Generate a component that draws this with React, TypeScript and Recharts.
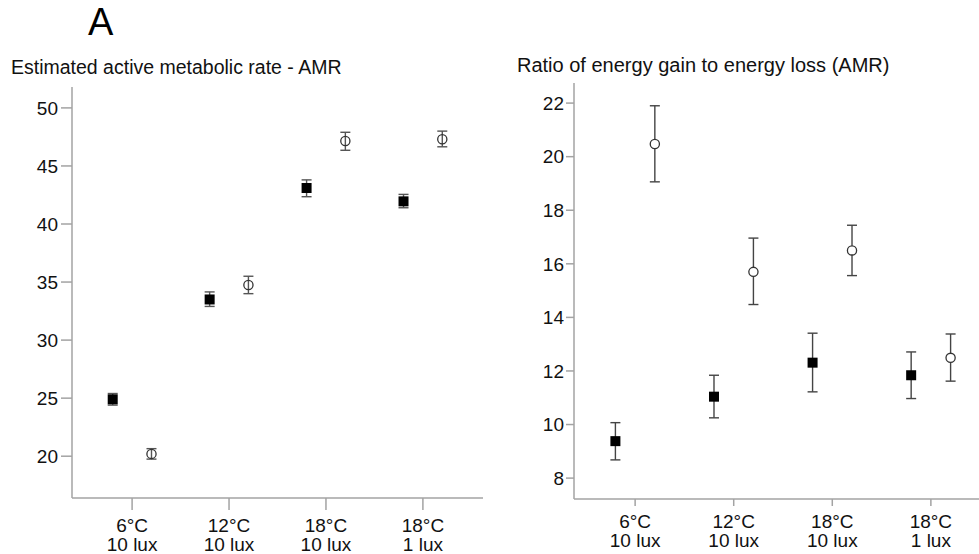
import { ScatterChart, Scatter, XAxis, YAxis, ErrorBar } from 'recharts'

const FONT = '"Liberation Sans", Arial, sans-serif'

// x categories (two-line tick labels)
const TEMPS = ['6°C', '12°C', '18°C', '18°C']
const LUX = ['10 lux', '10 lux', '10 lux', '1 lux']
const CAT_TICKS = [1, 2, 3, 4]

// left panel - estimated AMR, mean and interval bounds
const AMR_FILLED = [24.9, 33.5, 43.1, 41.95]
const AMR_FILLED_LO = [24.4, 32.9, 42.35, 41.4]
const AMR_FILLED_HI = [25.4, 34.15, 43.8, 42.55]
const AMR_OPEN = [20.2, 34.75, 47.15, 47.3]
const AMR_OPEN_LO = [19.75, 34.0, 46.35, 46.65]
const AMR_OPEN_HI = [20.65, 35.5, 47.9, 48.0]
const AMR_TICKS = [20, 25, 30, 35, 40, 45, 50]

// right panel - ratio of energy gain to energy loss
const RATIO_FILLED = [9.38, 11.04, 12.31, 11.84]
const RATIO_FILLED_LO = [8.68, 10.25, 11.22, 10.97]
const RATIO_FILLED_HI = [10.07, 11.84, 13.41, 12.71]
const RATIO_OPEN = [20.47, 15.7, 16.5, 12.49]
const RATIO_OPEN_LO = [19.06, 14.48, 15.56, 11.62]
const RATIO_OPEN_HI = [21.9, 16.96, 17.44, 13.38]
const RATIO_TICKS = [8, 10, 12, 14, 16, 18, 20, 22]

const rows = (vals: number[], lo: number[], hi: number[], offset: number) =>
  vals.map((y, i) => ({ x: i + 1 + offset, y, err: [y - lo[i], hi[i] - y] }))

const CatTick = ({ x, y, payload }: any) => {
  const i = payload.value - 1
  return (
    <text x={x} y={y} textAnchor="middle" fontSize={19} fill="#111" fontFamily={FONT}>
      <tspan x={x} dy={21.7}>{TEMPS[i]}</tspan>
      <tspan x={x} dy={19}>{LUX[i]}</tspan>
    </text>
  )
}

const Square = ({ cx, cy }: any) => (
  <rect x={cx - 5} y={cy - 5} width={10} height={10} fill="#000" />
)

const OpenCircle = (fill: string) => ({ cx, cy }: any) => (
  <circle cx={cx} cy={cy} r={4.6} fill={fill} stroke="#333" strokeWidth={1.3} />
)

const axisStyle = { stroke: '#a3a3a3', strokeWidth: 1.5 }
const tickStyle = { fontSize: 19, fill: '#111', fontFamily: FONT }

export default function App() {
  return (
    <div style={{ position: 'absolute', left: 0, top: 0, width: 979, height: 554, overflow: 'hidden', background: '#fff' }}>
      <div style={{ position: 'absolute', left: 0, top: 0 }}>
        <ScatterChart width={490} height={554} margin={{ top: 87, right: 7, bottom: 0, left: 0 }}>
          <XAxis
            type="number" dataKey="x" domain={[0.38, 4.62]} ticks={CAT_TICKS} allowDataOverflow
            height={56} tickSize={12} tickMargin={0} tick={<CatTick />}
            axisLine={axisStyle} tickLine={axisStyle}
          />
          <YAxis
            type="number" dataKey="y" domain={[16.4, 51.8]} ticks={AMR_TICKS} allowDataOverflow
            width={72} tickSize={11} tickMargin={3} tick={tickStyle}
            axisLine={axisStyle} tickLine={axisStyle}
          />
          <Scatter data={rows(AMR_FILLED, AMR_FILLED_LO, AMR_FILLED_HI, -0.2)} shape={<Square />} isAnimationActive={false}>
            <ErrorBar dataKey="err" direction="y" width={5} stroke="#555" strokeWidth={1.4} />
          </Scatter>
          <Scatter data={rows(AMR_OPEN, AMR_OPEN_LO, AMR_OPEN_HI, 0.2)} shape={OpenCircle('none')} isAnimationActive={false}>
            <ErrorBar dataKey="err" direction="y" width={5} stroke="#555" strokeWidth={1.4} />
          </Scatter>
        </ScatterChart>
      </div>

      <div style={{ position: 'absolute', left: 490, top: 0 }}>
        <ScatterChart width={510} height={554} margin={{ top: 83, right: 8, bottom: 0, left: 0 }}>
          <XAxis
            type="number" dataKey="x" domain={[0.38, 4.62]} ticks={CAT_TICKS} allowDataOverflow
            height={55} tickSize={7} tickMargin={0} tick={<CatTick />}
            axisLine={axisStyle} tickLine={axisStyle}
          />
          <YAxis
            type="number" dataKey="y" domain={[7.22, 22.75]} ticks={RATIO_TICKS} allowDataOverflow
            width={84} tickSize={8} tickMargin={2} tick={tickStyle}
            axisLine={axisStyle} tickLine={axisStyle}
          />
          <Scatter data={rows(RATIO_FILLED, RATIO_FILLED_LO, RATIO_FILLED_HI, -0.2)} shape={<Square />} isAnimationActive={false}>
            <ErrorBar dataKey="err" direction="y" width={5} stroke="#444" strokeWidth={1.4} />
          </Scatter>
          <Scatter data={rows(RATIO_OPEN, RATIO_OPEN_LO, RATIO_OPEN_HI, 0.2)} shape={OpenCircle('#fff')} isAnimationActive={false}>
            <ErrorBar dataKey="err" direction="y" width={5} stroke="#444" strokeWidth={1.4} />
          </Scatter>
        </ScatterChart>
      </div>

      <svg width={979} height={554} style={{ position: 'absolute', left: 0, top: 0, pointerEvents: 'none' }}>
        <text x={88} y={35} fontSize={38} fill="#000" fontFamily={FONT}>A</text>
        <text x={11} y={74} fontSize={19.5} fill="#111" fontFamily={FONT}>Estimated active metabolic rate - AMR</text>
        <text x={517} y={72} fontSize={20} fill="#111" fontFamily={FONT}>Ratio of energy gain to energy loss (AMR)</text>
      </svg>
    </div>
  )
}
